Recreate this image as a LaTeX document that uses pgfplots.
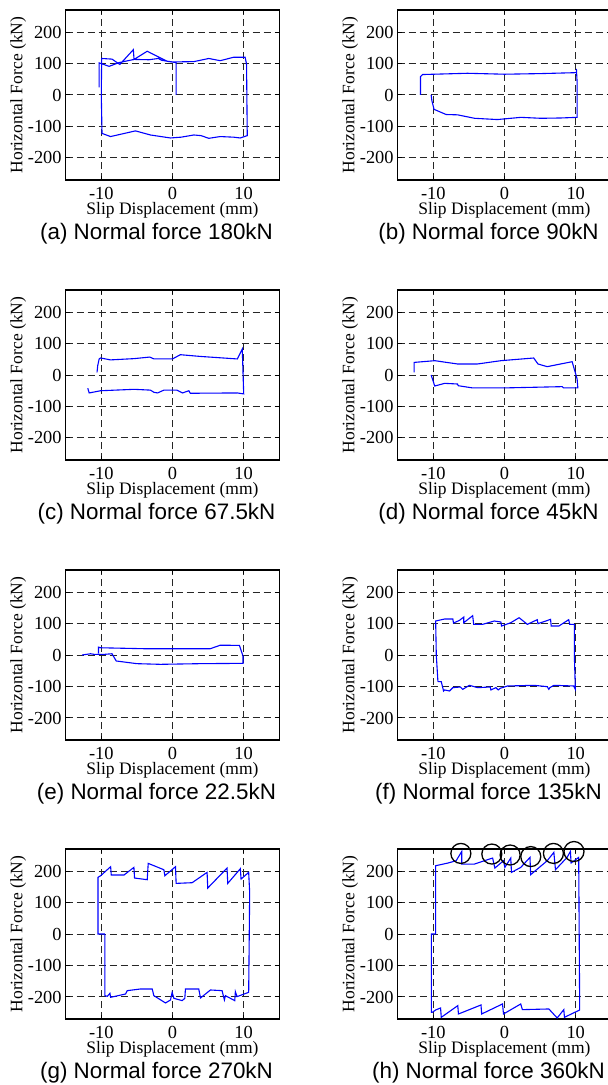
\documentclass[border=0pt]{standalone}
\usepackage{fontspec}
\setmainfont{Liberation Serif}
\newfontfamily\capfont{Liberation Sans}
\usepackage{pgfplots}
\pgfplotsset{compat=1.18}

\pgfplotsset{
  panel/.style={
    scale only axis, width=106.8pt, height=85pt,
    anchor=north west,
    xmin=-15, xmax=15, ymin=-270, ymax=270,
    xtick={-10,0,10}, ytick={-200,-100,0,100,200},
    tick align=inside, major tick length=2pt,
    grid=major,
    grid style={black!85, line width=0.5pt, dash pattern=on 3.5pt off 2pt},
    axis line style={line width=0.65pt},
    tick style={black, line width=0.5pt},
    /pgf/number format/assume math mode=true,
    tick label style={font=\fontsize{9.2}{10}\selectfont},
    yticklabel style={xshift=1.5pt},
    label style={font=\fontsize{8.75}{10}\selectfont},
    xlabel={Slip Displacement (mm)},
    ylabel={Horizontal Force (kN)},
    xlabel style={at={(axis description cs:0.5,-0.18)}, anchor=center},
    ylabel style={at={(axis description cs:-0.222,0.5)}, anchor=center},
  },
  loop/.style={blue, line width=0.55pt, no markers},
}
\newcommand\subcap[2]{\node[font=\capfont\fontsize{11.2}{13}\selectfont]
  at ([xshift=-8pt,yshift=-27pt]#1.south) {#2};}

\begin{document}
\begin{tikzpicture}
\useasboundingbox (0,0) rectangle (303.5pt,-542.5pt);

% (a) 180 kN
\begin{axis}[panel, name=a, at={(32.85pt,-5pt)}]
\addplot[loop] coordinates {
 (0.5,0) (0.5,103) (-0.75,107) (-3.55,139) (-5.4,113) (-5.5,144) (-7.4,97)
 (-8.5,114) (-9.95,116) (-10,0) (-9.9,-122) (-8.7,-132) (-5.2,-114) (-3.1,-127)
 (-0.3,-136.5) (1.2,-134) (3,-127) (4,-129) (5.1,-137.6) (6.7,-132) (8.6,-134)
 (9.5,-136.5) (10.5,-129) (10.4,98) (10.2,120) (8.6,120) (6.7,109) (5.1,116)
 (3,106) (0,105) (-1.5,110) (-2,116) (-3.3,112) (-5.4,113) (-7.5,103)
 (-8.9,91) (-10.3,102) (-10.3,24)};
\end{axis}

% (b) 90 kN
\begin{axis}[panel, name=b, at={(198.85pt,-5pt)}]
\addplot[loop] coordinates {
 (-11.8,0) (-11.8,58) (-11.5,65) (-5.2,69) (0,66) (5.1,68) (10.1,71) (10.1,83)
 (10.2,40) (10.2,-71) (7.9,-73) (5.1,-74) (2.3,-71) (-1,-78) (-4.2,-74)
 (-6.6,-63) (-8.2,-62) (-9.9,-45.5) (-10.2,-18) (-10.3,0)};
\end{axis}

% (c) 67.5 kN
\begin{axis}[panel, name=c, at={(32.85pt,-145pt)}]
\addplot[loop] coordinates {
 (-10.6,8.5) (-10.5,30) (-10.3,51) (-10.1,54) (-8.7,48) (-5.4,52) (-3.2,57)
 (-2.6,51) (0,51) (1.1,64.5) (3.9,59) (9.1,51) (9.8,82.5) (10,-60) (9.1,-57)
 (2.5,-58) (2.3,-50) (1.4,-57) (0.6,-48) (0,-48) (-1.2,-48) (-2.1,-57)
 (-2.6,-55) (-3.1,-48) (-5.4,-45.5) (-10.1,-50) (-11.7,-57) (-11.9,-42)};
\end{axis}

% (d) 45 kN
\begin{axis}[panel, name=d, at={(198.85pt,-145pt)}]
\addplot[loop] coordinates {
 (-12.7,8.5) (-12.7,40) (-9.8,45.5) (-6.6,35) (-3.8,35) (-0.5,45.5) (4.1,54)
 (4.7,35) (6,26.5) (9.5,42.3) (10.2,-12.7) (10.3,-41) (8.3,-41) (8.1,-37)
 (4.1,-39) (0,-41) (-4.5,-41) (-6.5,-34) (-6.6,-28.6) (-8.4,-26.5) (-9.8,-35)
 (-10.3,0)};
\end{axis}

% (e) 22.5 kN
\begin{axis}[panel, name=e, at={(32.85pt,-285pt)}]
\addplot[loop] coordinates {
 (-12.7,0) (-11.5,4) (-11,2) (-9.6,2) (-8.5,4) (-7.9,-19) (-5,-27.5)
 (-1.7,-29.6) (3.9,-27.5) (9.9,-26.5) (9.9,-3) (9.4,30.7) (6.7,31) (5.3,20)
 (-4,20) (-10.1,23) (-10.4,25) (-10.4,5)};
\end{axis}

% (f) 135 kN
\begin{axis}[panel, name=f, at={(198.85pt,-285pt)}]
\addplot[loop] coordinates {
 (-9.35,-84.7) (-9.58,0) (-9.67,108) (-8.42,114.3) (-7.26,114.3) (-7.16,101.6)
 (-6.33,110) (-5.72,120.6) (-5.72,102.6) (-4.47,124.9) (-4.33,97.4) (-3.07,97.4)
 (-1.44,108) (-0.51,104.8) (-0.42,92) (0.88,102.6) (2.05,118.5) (3.21,97.4)
 (4.6,112.2) (4.7,99.5) (6.47,113.2) (6.56,92) (7.63,92) (9.02,112.2)
 (9.16,97.4) (9.81,97.4) (9.81,0) (9.95,-109) (9.72,-98.4) (6.93,-96.3)
 (6.37,-103.7) (6.23,-109) (6,-100.5) (4.14,-96.3) (0.42,-98.4) (-0.6,-105.8)
 (-0.88,-111) (-1.21,-103.7) (-1.91,-111) (-2,-101.6) (-3.77,-103.7)
 (-4.93,-96.3) (-5.86,-109) (-6.19,-101.6) (-7.26,-103.7) (-7.72,-114.3)
 (-8.42,-111) (-8.56,-114.3) (-8.88,-84.7) (-9.35,-84.7)};
\end{axis}

% (g) 270 kN
\begin{axis}[panel, name=g, at={(32.85pt,-424.5pt)}]
\addplot[loop] coordinates {
 (-9.49,0) (-10.47,0) (-10.47,179.9) (-10.09,185.2) (-8.69,213.8) (-8.6,187.3)
 (-6.82,187.3) (-5.42,211.6) (-5.33,177.8) (-3.55,172.5) (-3.41,224.3)
 (-1.21,204.2) (-1.07,185.2) (0.42,213.8) (0.51,160.8) (2.76,163) (4.86,195.8)
 (4.95,146) (7.66,209.5) (7.76,160.8) (9.53,207.4) (9.63,174.6) (10.7,195.8)
 (10.84,132.3) (10.7,-185.2) (9.07,-198.9) (8.83,-183.1) (8.74,-211.6)
 (7.43,-195.8) (7.29,-209.5) (6.96,-179.9) (5.33,-177.8) (3.93,-203.2)
 (3.69,-174.6) (1.82,-174.6) (1.73,-204.2) (1.36,-211.6) (0.19,-204.2)
 (-0.05,-185.2) (-0.28,-209.5) (-0.98,-219) (-2.62,-195.8) (-2.85,-174.6)
 (-4.49,-174.6) (-6.36,-179.9) (-6.59,-190.5) (-8.69,-201.1) (-8.79,-188.4)
 (-9.16,-197.9) (-9.49,-195.8) (-9.49,0)};
\end{axis}

% (h) 360 kN
\begin{axis}[panel, name=h, at={(198.85pt,-424.5pt)}, clip=false]
\addplot[loop] coordinates {
 (-9.67,0) (-9.67,216.9) (-7.95,225.4) (-6.79,232.8) (-6,262.4) (-6,222.2)
 (-4.23,222.2) (-1.67,241.3) (-1.35,209.5) (-0.14,232.8) (0.05,211.6)
 (0.88,241.3) (0.98,195.8) (2.28,211.6) (3.58,243.4) (3.67,188.4) (6,232.8)
 (6.93,259.3) (7.16,204.2) (8.79,243.4) (9.26,262.4) (9.35,225.4) (10.42,243.4)
 (10.56,-241.3) (8.42,-264.6) (8.33,-240.2) (7.4,-266.7) (6.23,-238.1)
 (2.51,-240.2) (2.28,-222.2) (-0.14,-254) (-0.28,-222.2) (-3.21,-254)
 (-3.3,-225.4) (-6.47,-254) (-6.56,-227.5) (-8.88,-264.6) (-8.98,-234.9)
 (-9.67,-241.3) (-10.14,-248.7) (-10.28,-248.7) (-10.28,0) (-9.67,0)};
\addplot[only marks, mark=o, mark size=5pt, black, mark options={line width=0.65pt}]
 coordinates {(-6.13,256) (-1.78,254) (0.79,251) (3.69,246) (6.87,256) (9.76,262)};
\end{axis}

\subcap{a}{(a) Normal force 180kN}
\subcap{b}{(b) Normal force 90kN}
\subcap{c}{(c) Normal force 67.5kN}
\subcap{d}{(d) Normal force 45kN}
\subcap{e}{(e) Normal force 22.5kN}
\subcap{f}{(f) Normal force 135kN}
\subcap{g}{(g) Normal force 270kN}
\subcap{h}{(h) Normal force 360kN}
\end{tikzpicture}
\end{document}
